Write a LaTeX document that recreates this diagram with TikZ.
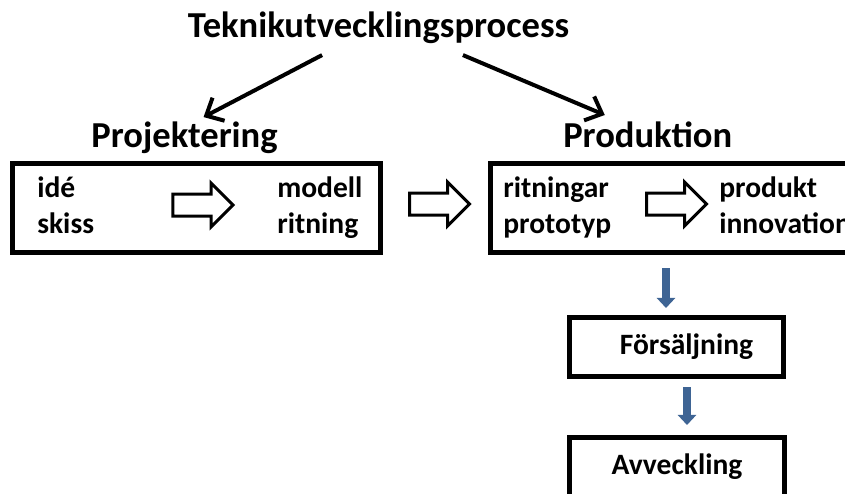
\documentclass[tikz,border=0pt]{standalone}
\usepackage{fontspec}
\setmainfont{Carlito}
\usepackage{tikz}
\usetikzlibrary{shapes,arrows.meta,positioning}
\definecolor{arrowblue}{RGB}{62,100,148}

\begin{document}
\begin{tikzpicture}[
    x=0.025cm, y=-0.025cm,
    heading/.style={inner sep=0, font=\fontsize{26}{30}\selectfont\bfseries},
    itemtext/.style={inner sep=0, anchor=base west, font=\fontsize{21}{25}\selectfont\bfseries},
    boxframe/.style={rectangle, draw, line width=0.125cm, inner sep=0, minimum height=2.225cm},
    stage/.style={rectangle, draw, line width=0.125cm, minimum width=5.35cm, minimum height=1.475cm, font=\fontsize{21}{25}\selectfont\bfseries},
    blockarrow/.style={single arrow, draw, line width=0.075cm, fill=white, inner xsep=0, inner ysep=0.2375cm, minimum height=1.5cm, single arrow head extend=0.275cm, single arrow tip angle=90},
    arrow/.style={-{Straight Barb[length=0.35cm,width=0.65cm]}, line width=0.1cm},
    flowdown/.style={-{Triangle[length=0.25cm,width=0.45cm]}, arrowblue, line width=0.2cm}
]
\useasboundingbox (0,0) rectangle (845,493);
\clip (0,0) rectangle (845,493);

% Headings
\node[heading, anchor=base] (teknik) at (378.5,37) {Teknikutvecklingsprocess};
\node[heading, anchor=base east] (proj) at (278,147) {Projektering};
\node[heading, anchor=base west] (prod) at (563,147) {Produktion};

\draw[arrow] ([xshift=-1.41cm,yshift=-0.29cm]teknik.south) -- ([xshift=0.475cm,yshift=0.1cm]proj.north);
\draw[arrow] ([xshift=2.11cm,yshift=-0.29cm]teknik.south) -- ([xshift=-1.075cm,yshift=0.15cm]prod.north);

% Boxes
\node[boxframe, minimum width=9.2cm] (projbox) at (196.5,208) {};
\node[boxframe, minimum width=9.5cm] (prodbox) at (680.5,208) {};

\node[blockarrow] (projstep) at (197.5,205) {};
\node[blockarrow] (link) at (434,204) {};
\node[blockarrow] (prodstep) at (671,204) {};

\node[itemtext] (ide) at (37,197) {idé};
\node[itemtext] (skiss) at (37,233) {skiss};
\node[itemtext] (modell) at (277,197) {modell};
\node[itemtext] (ritning) at (277,233) {ritning};
\node[itemtext] (ritningar) at (503,197) {ritningar};
\node[itemtext] (prototyp) at (503,233) {prototyp};
\node[itemtext] (produkt) at (719,197) {produkt};
\node[itemtext] (innovation) at (719,233) {innovation};

% After production
\node[stage] (sales) at (676.5,347) {\hspace*{0.5cm}Försäljning};
\node[stage] (phaseout) at (677,467) {Avveckling};

\coordinate (salesin) at ([xshift=-0.2625cm]sales.north);
\coordinate (salesout) at ([xshift=0.2625cm]sales.south);
\draw[flowdown, shorten <=0.325cm, shorten >=0.175cm] (prodbox.south -| salesin) -- (salesin);
\draw[flowdown, shorten <=0.2cm, shorten >=0.25cm] (salesout) -- (salesout |- phaseout.north);

\end{tikzpicture}
\end{document}
